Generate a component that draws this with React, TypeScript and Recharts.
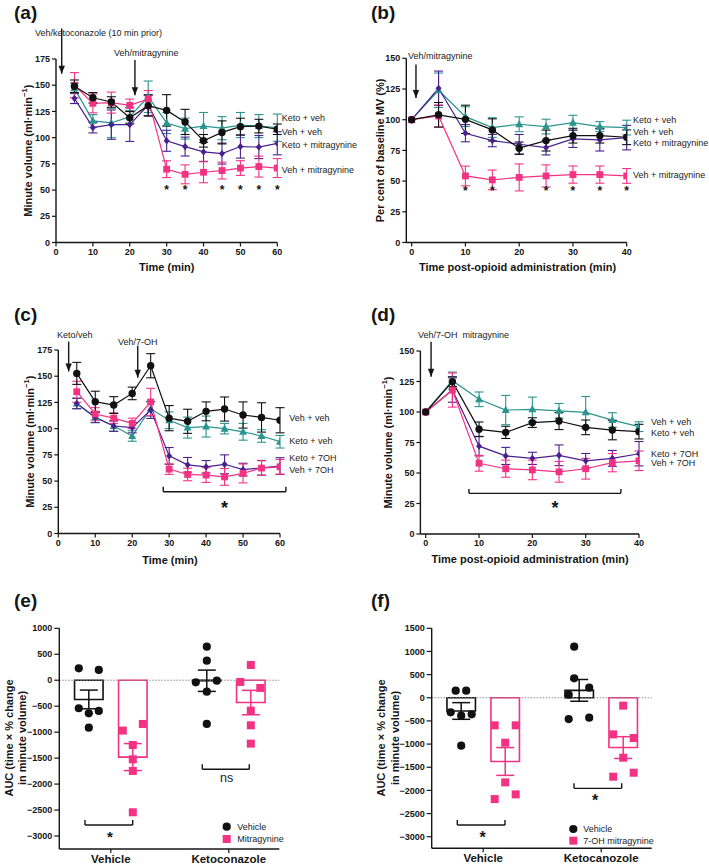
import React from 'react';
import {
  ComposedChart, Line, Scatter, XAxis, YAxis, ErrorBar,
  ReferenceLine, ReferenceDot, ReferenceArea,
} from 'recharts';

// ================= DATA =================
// (a) minute volume, mitragynine
const timeA = [5, 10, 15, 20, 25, 30, 35, 40, 45, 50, 55, 60];
const aVehVeh = [149, 138, 134, 119, 130.5, 126, 115, 97, 105, 110.5, 111, 108];
const aVehVehErr = [6, 5, 5, 6, 10, 15, 12, 6, 11, 8, 6.5, 5];
const aKetoVeh = [147, 116, 114, 120, 139, 114, 108.6, 111, 109, 112, 111, 109.5];
const aKetoVehErr = [5, 6, 14, 6, 15, 10, 10, 13, 11, 12, 11, 13];
const aKetoMit = [137.5, 109.5, 112.4, 112.4, 131, 97, 91.5, 86.4, 84.8, 91.5, 91, 94.6];
const aKetoMitErr = [5, 5, 14, 16, 10, 10, 9, 9, 10, 11, 11, 11];
const aVehMit = [150, 132.7, 133.4, 130.8, 136.9, 69.9, 65, 67, 68.6, 71, 72.4, 71];
const aVehMitErr = [12, 9, 10, 6, 8, 8, 9, 10, 8, 7, 10, 9];
const aStarTimes = [30, 35, 45, 50, 55, 60];
const aStarLevel = 53;

// (b) per cent of baseline, mitragynine
const timeB = [0, 5, 10, 15, 20, 25, 30, 35, 40];
const bVehVeh = [100, 104, 100.3, 91.7, 76.8, 83, 87, 87, 85.7];
const bVehVehErr = [0, 10, 11.5, 9, 5, 8.5, 6, 6, 6];
const bKetoVeh = [100, 124, 102.5, 93.6, 96.3, 94.4, 97.6, 94.4, 93.6];
const bKetoVehErr = [0, 14, 8, 8, 6, 6, 6, 4, 6];
const bKetoMit = [100, 125.6, 89, 83, 80, 77.3, 84.4, 83.5, 85.4];
const bKetoMitErr = [0, 14, 7, 5, 8, 6, 7, 9, 10];
const bVehMit = [100, 103, 54.2, 51, 53, 54.2, 55.3, 55.3, 54.2];
const bVehMitErr = [0, 9, 8, 8, 11, 9, 7, 7, 6];
const bStarTimes = [10, 15, 25, 30, 35, 40];
const bStarLevel = 44;

// (c) minute volume, 7-OH
const timeC = [5, 10, 15, 20, 25, 30, 35, 40, 45, 50, 55, 60];
const cVehVeh = [152.7, 125.7, 122.5, 133.6, 160, 110, 107, 116.5, 118.7, 113, 110.7, 108];
const cVehVehErr = [10.5, 10, 8, 6, 11.5, 12, 11.5, 9, 11.5, 12.5, 14, 12];
const cKetoVeh = [124, 111, 102.5, 93, 119, 108, 101, 102, 100, 97, 93, 87.5];
const cKetoVehErr = [5, 5, 5, 5, 7, 8, 10, 10, 5, 8, 6, 6];
const cKetoOH = [124, 110.7, 102.5, 101, 117.7, 74, 65.5, 63.6, 66, 61, 62.7, 64.3];
const cKetoOHErr = [5, 5, 5, 5, 8, 8, 7, 6, 9, 6, 7, 8];
const cVehOH = [135.2, 114, 110, 105, 125.4, 61.4, 56.3, 55.7, 54, 57.3, 62.4, 63.6];
const cVehOHErr = [10, 6, 5, 5, 13, 5, 6, 7, 8, 9, 7, 7];

// (d) minute volume post-opioid, 7-OH
const timeD = [0, 5, 10, 15, 20, 25, 30, 35, 40];
const dVehVeh = [100, 124.9, 85.8, 83.3, 91.3, 92.6, 87.4, 85.2, 83.9];
const dVehVehErr = [0, 4, 6, 5, 4, 7, 6, 8, 6];
const dKetoVeh = [100, 125.7, 110.4, 101.6, 102.2, 101, 99.7, 93.4, 88];
const dKetoVehErr = [0, 7, 6, 12, 10, 6, 13, 6, 4];
const dKetoOH = [100, 118, 72, 64, 62, 64.5, 60, 62, 65.8];
const dKetoOHErr = [0, 10, 8, 7, 5, 8.5, 6, 6.5, 10];
const dVehOH = [100, 118, 58, 53.5, 52.5, 51, 53.5, 58.5, 60];
const dVehOHErr = [0, 14, 6.5, 7, 8, 8.5, 8.5, 7.5, 8];

// (e) AUC, mitragynine
const eGroups = ['Vehicle', 'Ketoconazole'];
const eVehicleVeh = [230, 198, -540, -637, -592, -913];
const eVehicleMit = [-970, -842, -1247, -1523, -1747, -2543];
const eKetoVeh = [647, 377, -40, -8, -220, -842];
const eKetoMit = [294, -33, -149, -585, -868, -1221];
const eMeansVeh = [-370, -10];
const eSemVeh = [180, 205];
const eMeansDrug = [-1480, -430];
const eSemDrug = [260, 235];

// (f) AUC, 7-OH mitragynine
const fGroups = ['Vehicle', 'Ketocanozole'];
const fVehicleVeh = [153, 153, -314, -386, -358, -1034];
const fVehicleOH = [-595, -595, -970, -1827, -2187, -2086];
const fKetoVeh = [1104, 420, 218, 67, -459, -430];
const fKetoOH = [-170, -790, -869, -1294, -1704, -1618];
const fMeansVeh = [-285, 160];
const fSemVeh = [180, 235];
const fMeansDrug = [-1375, -1075];
const fSemDrug = [300, 235];

const yTicks175 = [0, 25, 50, 75, 100, 125, 150, 175];
const yTicks150 = [0, 25, 50, 75, 100, 125, 150];
const xTicks60 = [0, 10, 20, 30, 40, 50, 60];
const xTicks40 = [0, 10, 20, 30, 40];
const eTicks = [-3000, -2500, -2000, -1500, -1000, -500, 0, 500, 1000];
const fTicks = [-3000, -2500, -2000, -1500, -1000, -500, 0, 500, 1000, 1500];

// ================= LAYOUT / STYLE =================
const PAGE_W = 709;
const PAGE_H = 866;
const FONT = '"Liberation Sans", Arial, Helvetica, sans-serif';
const INK = '#151515';
const BLACK = '#111111';
const TEAL = '#2a948e';
const PURPLE = '#4a1f8e';
const PINK = '#f43283';
const YAW = 40;
const XAH = 26;

// bar-chart layout (x units on a hidden numeric axis)
const GROUP_X = [1.03, 3.39];
const BAR_OFF = 0.44;
const BAR_HALF = 0.285;
const eJitVV = [-0.2, 0.2, -0.2, 0, 0.2, 0];
const eJitVM = [-0.2, 0.2, 0, 0, 0, 0];
const eJitKV = [0, 0, -0.22, 0.2, 0, 0];
const eJitKM = [0, -0.21, 0.19, 0, 0, 0];
const fJitVV = [-0.11, 0.1, -0.21, 0, 0.21, 0];
const fJitVM = [-0.21, 0.21, 0, 0, -0.21, 0.21];
const fJitKV = [-0.1, -0.1, 0.2, -0.21, -0.21, 0.2];
const fJitKM = [0, -0.2, 0.21, 0, -0.2, 0.21];

type Box = { x0: number; x1: number; y0: number; y1: number };
const marginFor = (b: Box) => ({
  left: b.x0 - YAW,
  right: PAGE_W - b.x1,
  top: b.y0,
  bottom: PAGE_H - b.y1 - XAH,
});

const fmtNum = (v: number) => (v < 0 ? '\u2212' + Math.abs(v) : String(v));

const axisProps = {
  axisLine: { stroke: INK, strokeWidth: 1.4 },
  tickLine: { stroke: INK, strokeWidth: 1.2 },
  tickSize: 4,
  tickMargin: 2,
  allowDataOverflow: true,
  interval: 0 as const,
};
const tickStyle = { fontSize: 9, fontWeight: 700, fill: INK, fontFamily: FONT };

type Marker = 'circle' | 'square' | 'triangle' | 'diamond';
const markerFn = (kind: Marker, color: string) => (p: any) => {
  const { cx, cy, index } = p;
  const k = `m-${kind}-${index}`;
  if (cx == null || cy == null) return <g key={k} />;
  if (kind === 'circle') return <circle key={k} cx={cx} cy={cy} r={3.7} fill={color} />;
  if (kind === 'square')
    return <rect key={k} x={cx - 3.4} y={cy - 3.4} width={6.8} height={6.8} fill={color} />;
  if (kind === 'triangle')
    return <path key={k} d={`M${cx},${cy - 4.3}L${cx + 4},${cy + 3}L${cx - 4},${cy + 3}Z`} fill={color} />;
  return <path key={k} d={`M${cx},${cy - 3.6}L${cx + 3},${cy}L${cx},${cy + 3.6}L${cx - 3},${cy}Z`} fill={color} />;
};

const starShape = (fs: number) => (p: any) => (
  <text x={p.cx} y={p.cy + 0.58 * fs} textAnchor="middle" fontSize={fs} fontWeight={700}
    fill={INK} fontFamily={FONT}>*</text>
);
const arrowHead = (p: any) => (
  <path d={`M${p.cx - 3.2},${p.cy - 8}L${p.cx + 3.2},${p.cy - 8}L${p.cx},${p.cy}Z`} fill={INK} />
);

type SeriesDef = { vals: number[]; errs: number[]; color: string; marker: Marker };
type Arrow = { x: number; yTop: number; yTip: number };
type Bracket = { x1: number; x2: number; y: number; yEnd: number };
type Star = { x: number; y: number; fs: number };

const refArrows = (arrows: Arrow[], id: string) =>
  arrows.flatMap((a, i) => [
    <ReferenceLine key={`${id}al${i}`} segment={[{ x: a.x, y: a.yTop }, { x: a.x, y: a.yTip }]}
      stroke={INK} strokeWidth={1.4} ifOverflow="visible" />,
    <ReferenceDot key={`${id}ah${i}`} x={a.x} y={a.yTip} r={1} ifOverflow="visible" shape={arrowHead} />,
  ]);
const refBrackets = (brs: Bracket[], id: string) =>
  brs.flatMap((b, i) => [
    <ReferenceLine key={`${id}b${i}h`} segment={[{ x: b.x1, y: b.y }, { x: b.x2, y: b.y }]}
      stroke={INK} strokeWidth={1.4} ifOverflow="visible" />,
    <ReferenceLine key={`${id}b${i}l`} segment={[{ x: b.x1, y: b.y }, { x: b.x1, y: b.yEnd }]}
      stroke={INK} strokeWidth={1.4} ifOverflow="visible" />,
    <ReferenceLine key={`${id}b${i}r`} segment={[{ x: b.x2, y: b.y }, { x: b.x2, y: b.yEnd }]}
      stroke={INK} strokeWidth={1.4} ifOverflow="visible" />,
  ]);
const refStars = (stars: Star[], id: string) =>
  stars.map((s, i) => (
    <ReferenceDot key={`${id}s${i}`} x={s.x} y={s.y} r={1} ifOverflow="visible" shape={starShape(s.fs)} />
  ));

function LinePanel(props: {
  box: Box; times: number[]; series: SeriesDef[]; xDomain: number[]; xTicks: number[];
  yDomain: number[]; yTicks: number[]; arrows: Arrow[]; brackets: Bracket[]; stars: Star[]; id: string;
}) {
  const { box, times, series } = props;
  const rows = times.map((t, i) => {
    const r: any = { t };
    series.forEach((s, j) => {
      r[`v${j}`] = s.vals[i];
      r[`e${j}`] = s.errs[i];
    });
    return r;
  });
  return (
    <div style={{ position: 'absolute', left: 0, top: 0 }}>
      <ComposedChart width={PAGE_W} height={PAGE_H} data={rows} margin={marginFor(box)}>
        <XAxis type="number" dataKey="t" domain={props.xDomain} ticks={props.xTicks} height={XAH}
          tick={tickStyle} {...axisProps} />
        <YAxis type="number" domain={props.yDomain} ticks={props.yTicks} width={YAW}
          tick={tickStyle} {...axisProps} />
        {series.map((s, j) => (
          <Line key={`${props.id}l${j}`} type="linear" dataKey={`v${j}`} stroke={s.color} strokeWidth={1.2}
            dot={markerFn(s.marker, s.color)} activeDot={false} isAnimationActive={false}>
            <ErrorBar dataKey={`e${j}`} direction="y" width={4.5} stroke={s.color} strokeWidth={1.1}
              isAnimationActive={false} />
          </Line>
        ))}
        {refArrows(props.arrows, props.id)}
        {refBrackets(props.brackets, props.id)}
        {refStars(props.stars, props.id)}
      </ComposedChart>
    </div>
  );
}

function BarPanel(props: {
  box: Box; groups: string[]; yDomain: number[]; yTicks: number[];
  vehSets: number[][]; drugSets: number[][]; vehJit: number[][]; drugJit: number[][];
  meansVeh: number[]; semVeh: number[]; meansDrug: number[]; semDrug: number[];
  brackets: Bracket[]; stars: Star[]; id: string;
}) {
  const vehPts = props.vehSets.flatMap((vals, g) =>
    vals.map((y, i) => ({ x: GROUP_X[g] - BAR_OFF + props.vehJit[g][i], y })));
  const drugPts = props.drugSets.flatMap((vals, g) =>
    vals.map((y, i) => ({ x: GROUP_X[g] + BAR_OFF + props.drugJit[g][i], y })));
  const vehMean = props.meansVeh.map((y, g) => ({ x: GROUP_X[g] - BAR_OFF, y, e: props.semVeh[g] }));
  const drugMean = props.meansDrug.map((y, g) => ({ x: GROUP_X[g] + BAR_OFF, y, e: props.semDrug[g] }));
  const tickFmt = (v: number) => (Math.abs(v - GROUP_X[0]) < 0.01 ? props.groups[0] : props.groups[1]);
  return (
    <div style={{ position: 'absolute', left: 0, top: 0 }}>
      <ComposedChart width={PAGE_W} height={PAGE_H} margin={marginFor(props.box)}>
        <XAxis type="number" dataKey="x" domain={[0, 4.4]} ticks={GROUP_X} height={XAH}
          tickFormatter={tickFmt}
          tick={{ fontSize: 11.5, fontWeight: 700, fill: INK, fontFamily: FONT }} {...axisProps} />
        <YAxis type="number" dataKey="y" domain={props.yDomain} ticks={props.yTicks} width={YAW}
          tickFormatter={fmtNum} tick={tickStyle} {...axisProps} tickSize={5} />
        <ReferenceLine y={0} stroke="#8a8a8a" strokeWidth={1} strokeDasharray="1.5 1.5" />
        {vehMean.map((m, i) => (
          <ReferenceArea key={`${props.id}bv${i}`} x1={m.x - BAR_HALF} x2={m.x + BAR_HALF} y1={0} y2={m.y}
            fill="none" stroke={BLACK} strokeWidth={1.6} fillOpacity={0} ifOverflow="visible" />
        ))}
        {drugMean.map((m, i) => (
          <ReferenceArea key={`${props.id}bd${i}`} x1={m.x - BAR_HALF} x2={m.x + BAR_HALF} y1={0} y2={m.y}
            fill="none" stroke={PINK} strokeWidth={1.6} fillOpacity={0} ifOverflow="visible" />
        ))}
        <Scatter data={vehPts} isAnimationActive={false}
          shape={(p: any) => <circle cx={p.cx} cy={p.cy} r={4.1} fill={BLACK} />} />
        <Scatter data={drugPts} isAnimationActive={false}
          shape={(p: any) => <rect x={p.cx - 4} y={p.cy - 4} width={8} height={8} fill={PINK} />} />
        <Scatter data={vehMean} isAnimationActive={false} shape={() => <g />}>
          <ErrorBar dataKey="e" direction="y" width={9} stroke={BLACK} strokeWidth={1.5} isAnimationActive={false} />
        </Scatter>
        <Scatter data={drugMean} isAnimationActive={false} shape={() => <g />}>
          <ErrorBar dataKey="e" direction="y" width={9} stroke={PINK} strokeWidth={1.5} isAnimationActive={false} />
        </Scatter>
        {refBrackets(props.brackets, props.id)}
        {refStars(props.stars, props.id)}
      </ComposedChart>
    </div>
  );
}

// ---------- overlay text helpers ----------
const Letter = ({ x, y, t }: { x: number; y: number; t: string }) => (
  <text x={x} y={y} fontSize={19} fontWeight={700} fill={INK}>{t}</text>
);
const Note = ({ x, y, t }: { x: number; y: number; t: string }) => (
  <text x={x} y={y} fontSize={9} fill="#222" dominantBaseline="central" style={{ whiteSpace: 'pre' }}>{t}</text>
);
const XTitle = ({ x, y, t }: { x: number; y: number; t: string }) => (
  <text x={x} y={y} fontSize={11} fontWeight={700} fill={INK} textAnchor="middle" dominantBaseline="central">{t}</text>
);
const YTitle = ({ x, y, children }: { x: number; y: number; children: any }) => (
  <text x={x} y={y} transform={`rotate(-90 ${x} ${y})`} fontSize={11} fontWeight={700} fill={INK}
    textAnchor="middle" dominantBaseline="central">{children}</text>
);
const MV = () => (
  <>Minute volume (ml·min<tspan dy={-4} fontSize={7.5}>{'\u22121'}</tspan><tspan dy={4}>)</tspan></>
);

export default function App() {
  const boxA = { x0: 56, x1: 277.3, y0: 59, y1: 242.5 };
  const boxB = { x0: 406.3, x1: 626.7, y0: 58.3, y1: 242.5 };
  const boxC = { x0: 58.3, x1: 280, y0: 350, y1: 533.5 };
  const boxD = { x0: 420.4, x1: 639, y0: 351, y1: 534 };
  const boxE = { x0: 59.3, x1: 279.3, y0: 628.3, y1: 849 };
  const boxF = { x0: 431.7, x1: 651.7, y0: 628.3, y1: 848.3 };

  return (
    <div style={{ position: 'absolute', left: 0, top: 0, width: PAGE_W, height: PAGE_H, background: '#fff',
      fontFamily: FONT, overflow: 'hidden' }}>
      <LinePanel id="a" box={boxA} times={timeA} xDomain={[0, 60]} xTicks={xTicks60} yDomain={[0, 175]} yTicks={yTicks175}
        series={[
          { vals: aKetoVeh, errs: aKetoVehErr, color: TEAL, marker: 'triangle' },
          { vals: aKetoMit, errs: aKetoMitErr, color: PURPLE, marker: 'diamond' },
          { vals: aVehMit, errs: aVehMitErr, color: PINK, marker: 'square' },
          { vals: aVehVeh, errs: aVehVehErr, color: BLACK, marker: 'circle' },
        ]}
        arrows={[{ x: 1.55, yTop: 204, yTip: 161 }, { x: 21.4, yTop: 174, yTip: 140.5 }]}
        brackets={[]}
        stars={aStarTimes.map((t) => ({ x: t, y: aStarLevel, fs: 12 }))} />
      <LinePanel id="b" box={boxB} times={timeB} xDomain={[-1, 40]} xTicks={xTicks40} yDomain={[0, 150]} yTicks={yTicks150}
        series={[
          { vals: bKetoVeh, errs: bKetoVehErr, color: TEAL, marker: 'triangle' },
          { vals: bKetoMit, errs: bKetoMitErr, color: PURPLE, marker: 'diamond' },
          { vals: bVehMit, errs: bVehMitErr, color: PINK, marker: 'square' },
          { vals: bVehVeh, errs: bVehVehErr, color: BLACK, marker: 'circle' },
        ]}
        arrows={[{ x: 0.8, yTop: 145, yTip: 117.7 }]}
        brackets={[]}
        stars={bStarTimes.map((t) => ({ x: t, y: bStarLevel, fs: 12 }))} />
      <LinePanel id="c" box={boxC} times={timeC} xDomain={[0, 60]} xTicks={xTicks60} yDomain={[0, 175]} yTicks={yTicks175}
        series={[
          { vals: cKetoVeh, errs: cKetoVehErr, color: TEAL, marker: 'triangle' },
          { vals: cKetoOH, errs: cKetoOHErr, color: PURPLE, marker: 'diamond' },
          { vals: cVehOH, errs: cVehOHErr, color: PINK, marker: 'square' },
          { vals: cVehVeh, errs: cVehVehErr, color: BLACK, marker: 'circle' },
        ]}
        arrows={[{ x: 2.8, yTop: 183, yTip: 154.5 }, { x: 21.5, yTop: 179, yTip: 148.5 }]}
        brackets={[{ x1: 28.4, x2: 61.6, y: 39.8, yEnd: 44.5 }]}
        stars={[{ x: 45, y: 28.6, fs: 18 }]} />
      <LinePanel id="d" box={boxD} times={timeD} xDomain={[-1, 40]} xTicks={xTicks40} yDomain={[0, 150]} yTicks={yTicks150}
        series={[
          { vals: dKetoVeh, errs: dKetoVehErr, color: TEAL, marker: 'triangle' },
          { vals: dKetoOH, errs: dKetoOHErr, color: PURPLE, marker: 'diamond' },
          { vals: dVehOH, errs: dVehOHErr, color: PINK, marker: 'square' },
          { vals: dVehVeh, errs: dVehVehErr, color: BLACK, marker: 'circle' },
        ]}
        arrows={[{ x: 1, yTop: 157.6, yTip: 128.9 }]}
        brackets={[{ x1: 8.1, x2: 36.6, y: 33.3, yEnd: 36.9 }]}
        stars={[{ x: 24.25, y: 25, fs: 18 }]} />
      <BarPanel id="e" box={boxE} groups={eGroups} yDomain={[-3250, 1000]} yTicks={eTicks}
        vehSets={[eVehicleVeh, eKetoVeh]} drugSets={[eVehicleMit, eKetoMit]}
        vehJit={[eJitVV, eJitKV]} drugJit={[eJitVM, eJitKM]}
        meansVeh={eMeansVeh} semVeh={eSemVeh} meansDrug={eMeansDrug} semDrug={eSemDrug}
        brackets={[{ x1: 0.514, x2: 1.468, y: -2787, yEnd: -2690 }, { x1: 2.86, x2: 3.8, y: -1715, yEnd: -1619 }]}
        stars={[{ x: 1.014, y: -2947, fs: 15 }]} />
      <BarPanel id="f" box={boxF} groups={fGroups} yDomain={[-3250, 1500]} yTicks={fTicks}
        vehSets={[fVehicleVeh, fKetoVeh]} drugSets={[fVehicleOH, fKetoOH]}
        vehJit={[fJitVV, fJitKV]} drugJit={[fJitVM, fJitKM]}
        meansVeh={fMeansVeh} semVeh={fSemVeh} meansDrug={fMeansDrug} semDrug={fSemDrug}
        brackets={[{ x1: 0.512, x2: 1.466, y: -2748, yEnd: -2640 }, { x1: 2.846, x2: 3.8, y: -1956, yEnd: -1848 }]}
        stars={[{ x: 1.02, y: -2928, fs: 16 }, { x: 3.27, y: -2136, fs: 16 }]} />

      <svg width={PAGE_W} height={PAGE_H} style={{ position: 'absolute', left: 0, top: 0, pointerEvents: 'none' }}
        fontFamily={FONT}>
        <Letter x={14} y={19} t="(a)" />
        <Letter x={371} y={19} t="(b)" />
        <Letter x={14} y={321} t="(c)" />
        <Letter x={371} y={321} t="(d)" />
        <Letter x={14} y={607} t="(e)" />
        <Letter x={371} y={607} t="(f)" />

        <Note x={35} y={33} t="Veh/ketoconazole (10 min prior)" />
        <Note x={114} y={53} t="Veh/mitragynine" />
        <Note x={408} y={56} t="Veh/mitragynine" />
        <Note x={57} y={335} t="Keto/veh" />
        <Note x={118} y={341.7} t="Veh/7-OH" />
        <Note x={418} y={335} t="Veh/7-OH  mitragynine" />

        <Note x={281.7} y={118.3} t="Keto + veh" />
        <Note x={281.7} y={132.3} t="Veh + veh" />
        <Note x={281.7} y={145} t="Keto + mitragynine" />
        <Note x={281.7} y={170} t="Veh + mitragynine" />

        <Note x={633} y={120} t="Keto + veh" />
        <Note x={633} y={131.7} t="Veh + veh" />
        <Note x={633} y={143.3} t="Keto + mitragynine" />
        <Note x={633} y={175} t="Veh + mitragynine" />

        <Note x={289.3} y={418.3} t="Veh + veh" />
        <Note x={289.3} y={441} t="Keto + veh" />
        <Note x={289.3} y={458.3} t="Keto + 7OH" />
        <Note x={289.3} y={470} t="Veh + 7OH" />

        <Note x={651} y={421.7} t="Veh + veh" />
        <Note x={651} y={432.7} t="Keto + veh" />
        <Note x={651} y={454} t="Keto + 7OH" />
        <Note x={651} y={463.3} t="Veh + 7OH" />

        <YTitle x={28} y={150.7}><MV /></YTitle>
        <YTitle x={380} y={150.4}>Per cent of baseline MV (%)</YTitle>
        <YTitle x={30} y={441.7}><MV /></YTitle>
        <YTitle x={388} y={442.5}><MV /></YTitle>
        <YTitle x={8.5} y={738}>AUC (time × % change</YTitle>
        <YTitle x={22} y={738}>in minute volume)</YTitle>
        <YTitle x={380.5} y={738}>AUC (time × % change</YTitle>
        <YTitle x={394.5} y={738}>in minute volume)</YTitle>

        <XTitle x={166.7} y={267} t="Time (min)" />
        <XTitle x={517.5} y={266.7} t="Time post-opioid administration (min)" />
        <XTitle x={170} y={560} t="Time (min)" />
        <XTitle x={530} y={558.5} t="Time post-opioid administration (min)" />

        <text x={226.7} y={778.3} fontSize={12.5} fill="#222" textAnchor="middle" dominantBaseline="central">ns</text>

        <circle cx={226.7} cy={826.7} r={4.1} fill={BLACK} />
        <Note x={237.3} y={826.7} t="Vehicle" />
        <rect x={222.7} y={835} width={8} height={8} fill={PINK} />
        <Note x={237.3} y={839} t="Mitragynine" />

        <circle cx={573.3} cy={829} r={4.1} fill={BLACK} />
        <Note x={583.3} y={829} t="Vehicle" />
        <rect x={569.3} y={836.7} width={8} height={8} fill={PINK} />
        <Note x={583.3} y={840.7} t="7-OH mitragynine" />
      </svg>
    </div>
  );
}
